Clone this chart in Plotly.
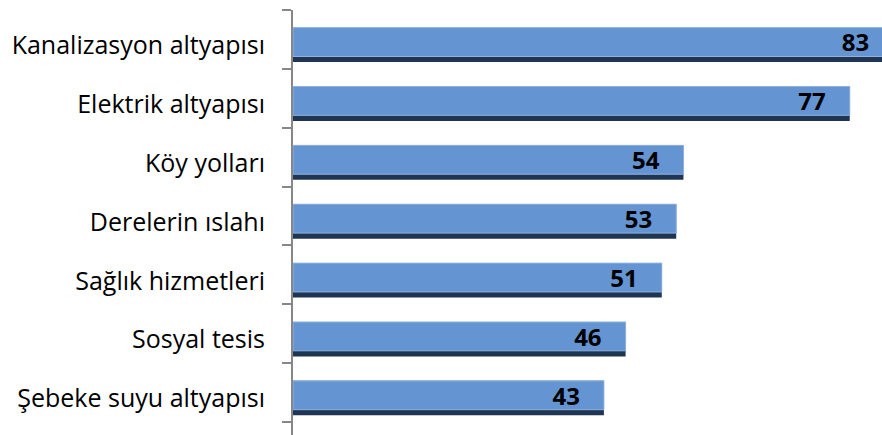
import plotly.graph_objects as go

categories = ["Kanalizasyon altyapısı", "Elektrik altyapısı", "Köy yolları",
              "Derelerin ıslahı", "Sağlık hizmetleri", "Sosyal tesis",
              "Şebeke suyu altyapısı"]
values = [83, 77, 54, 53, 51, 46, 43]

W, H = 882, 435
ML, MT = 293, 10
X_MAX = 81.46
PX_PER_UNIT = (W - ML) / X_MAX
LABEL_SHIFT = 24 / PX_PER_UNIT

pos = list(range(len(categories)))
LIGHT = "#6495D2"
DARK = "#1F3552"

fig = go.Figure()
fig.add_trace(go.Bar(y=pos, x=values, orientation="h", marker_color=DARK,
                     width=0.585, offset=-0.3, marker_line_width=0,
                     hoverinfo="skip"))
fig.add_trace(go.Bar(y=pos, x=values, orientation="h", marker_color=LIGHT,
                     width=0.49, offset=-0.3,
                     marker_line=dict(width=1, color="#8FB2E0"),
                     hoverinfo="skip"))
fig.add_trace(go.Scatter(y=pos, x=values, mode="text", xaxis="x2",
                         text=[str(v) for v in values], textposition="middle left",
                         textfont=dict(family="Open Sans", size=24, color="black",
                                       weight="bold"),
                         cliponaxis=False, hoverinfo="skip"))

ticks_minor = [p - 0.6 for p in pos] + [pos[-1] + 0.4]
fig.update_layout(
    width=W, height=H, margin=dict(l=ML, r=0, t=MT, b=0),
    barmode="overlay", showlegend=False,
    plot_bgcolor="white", paper_bgcolor="white",
    xaxis=dict(range=[0, X_MAX], visible=False, showgrid=False, zeroline=False),
    xaxis2=dict(range=[LABEL_SHIFT, X_MAX + LABEL_SHIFT], overlaying="x",
                visible=False, showgrid=False, zeroline=False),
    yaxis=dict(range=[6.62, -0.6], tickmode="array", tickvals=pos, ticktext=categories,
               ticks="", showline=True, linecolor="#878787", linewidth=2,
               showgrid=False, zeroline=False, ticklabelstandoff=21,
               tickfont=dict(family="Open Sans", size=25, color="black"),
               minor=dict(tickmode="array", tickvals=ticks_minor, ticks="outside",
                          ticklen=9, tickcolor="#878787", tickwidth=2, showgrid=False)),
)
fig.write_html("out.html", config={"displayModeBar": False},
               post_script="document.body.style.margin='0';document.body.style.overflow='hidden';")
